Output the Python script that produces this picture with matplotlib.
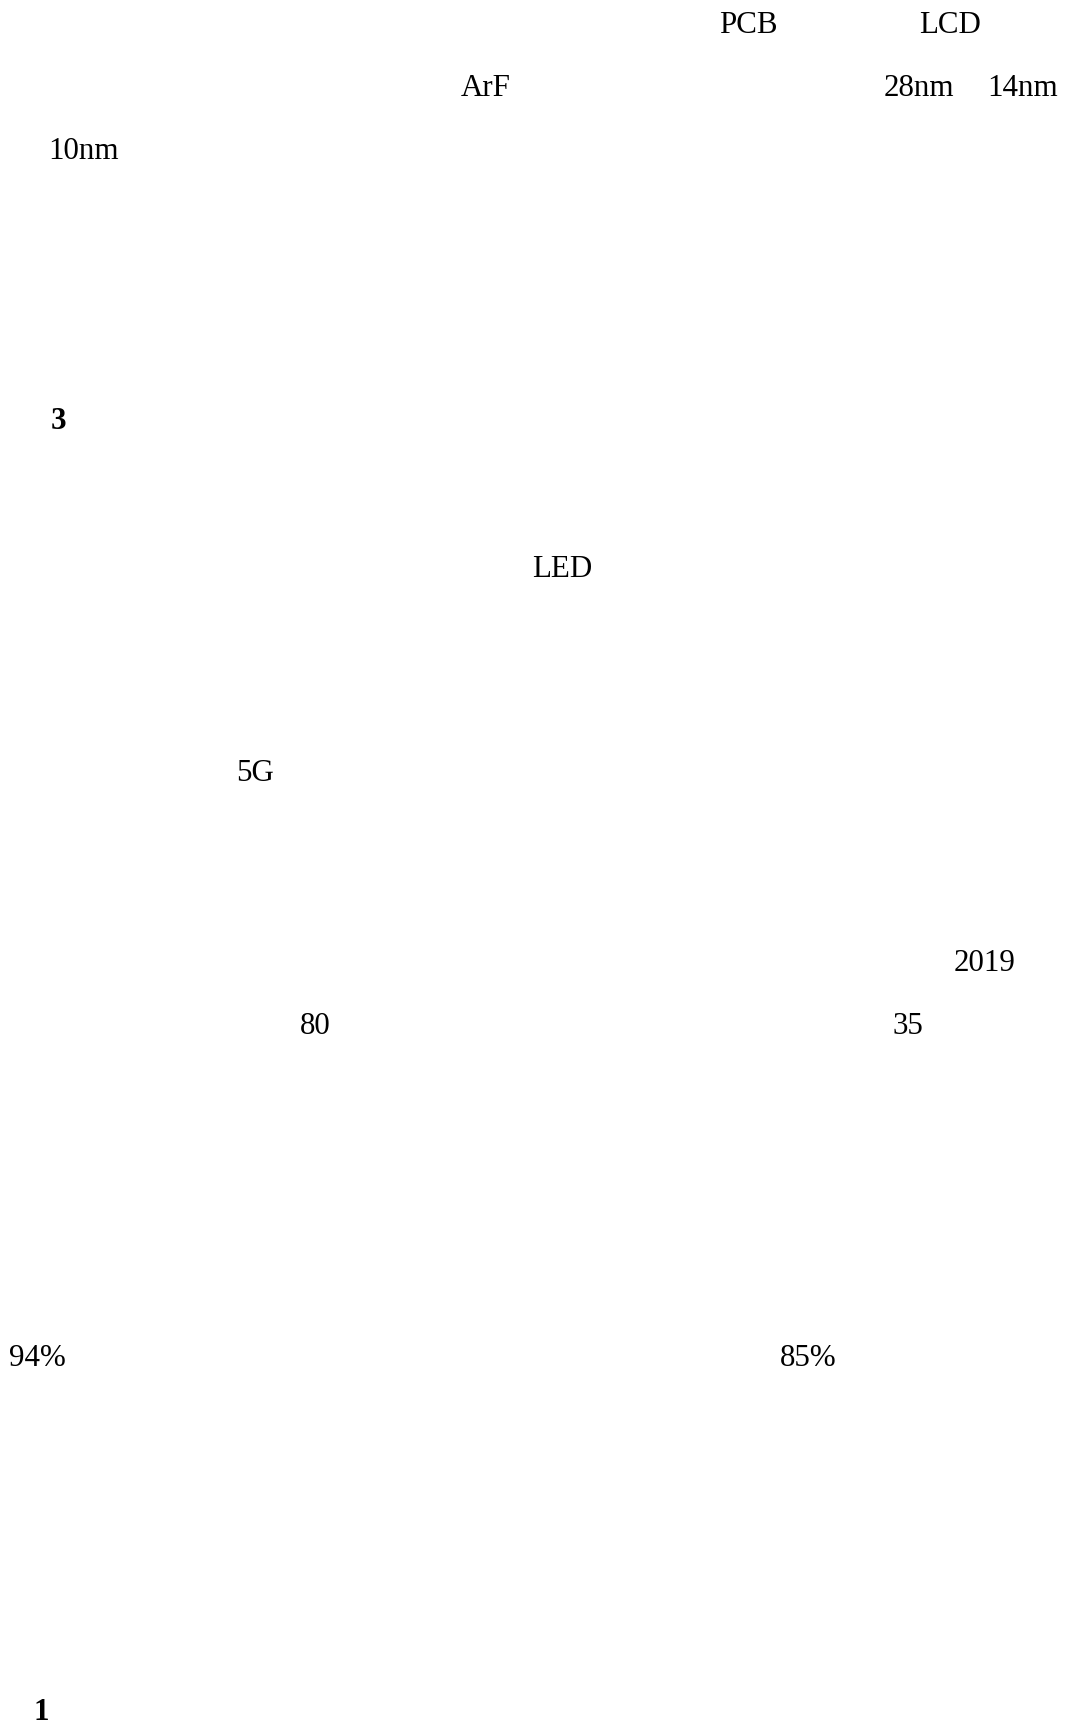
import matplotlib
matplotlib.use("Agg")
import matplotlib.pyplot as plt

W, H = 1069, 1728

# Visible text fragments of the page (the CJK glyphs are not rendered in the reference)
labels = ["PCB", "LCD", "ArF", "28nm", "14nm", "10nm", "3", "LED", "5G",
          "2019", "80", "35", "94%", "85%", "1"]
bold = [False, False, False, False, False, False, True, False, False,
        False, False, False, False, False, True]
# left x and baseline y in pixels
pos_x = [719, 919, 461, 884, 987, 48, 51, 532, 236, 954, 300, 893, 9, 780, 33]
pos_y = [33, 33, 96, 96, 96, 159, 429, 577, 781, 971, 1034, 1034, 1366, 1366, 1720]

fig = plt.figure(figsize=(W / 100, H / 100), dpi=100)
fig.patch.set_facecolor("white")

for lab, b, x, y in zip(labels, bold, pos_x, pos_y):
    fig.text(x / W, 1 - y / H, lab, ha="left", va="baseline",
             fontsize=22.3, family=["Liberation Serif", "DejaVu Serif"],
             fontweight="bold" if b else "normal", color="black")

fig.savefig("out.png", dpi=100, facecolor="white")
